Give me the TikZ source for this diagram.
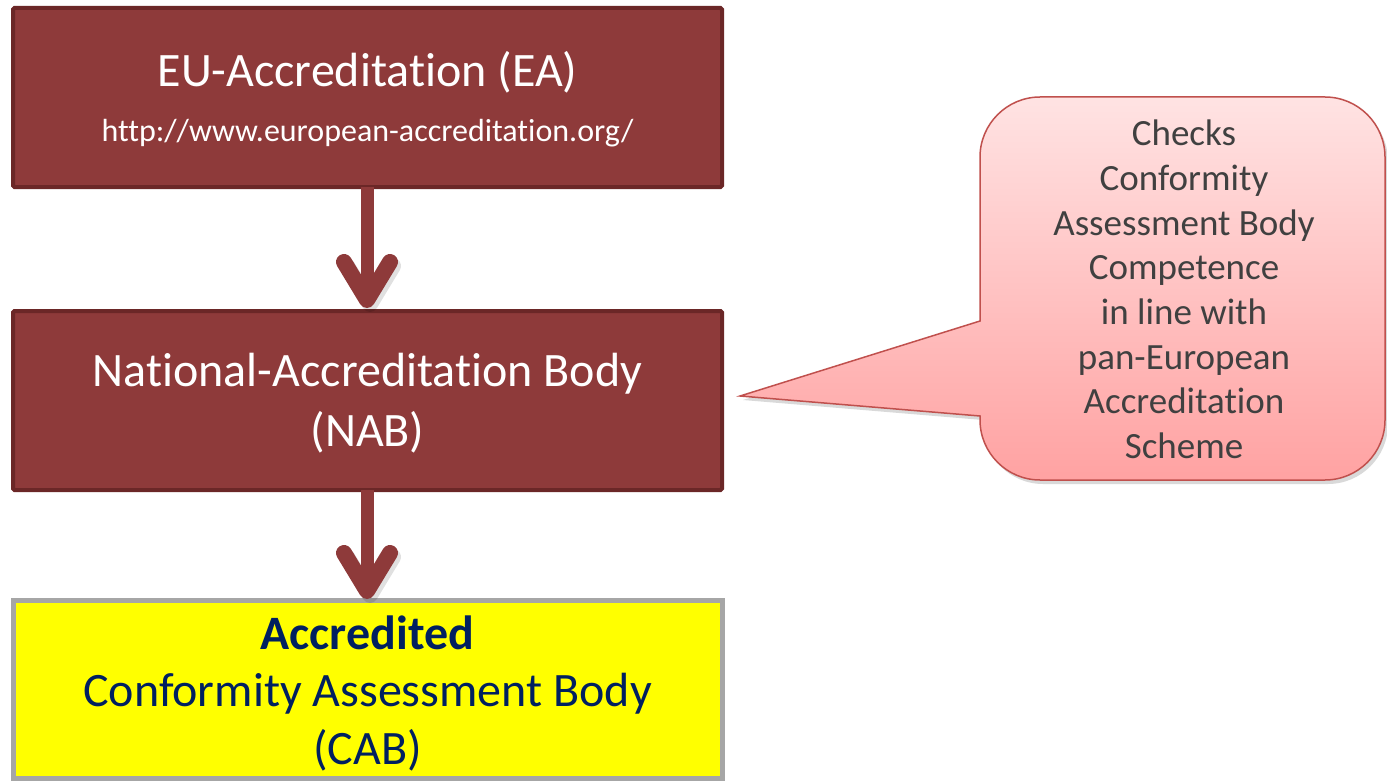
\documentclass[tikz,border=0pt]{standalone}
\usepackage{fontspec}
\setmainfont{Carlito}[Ligatures=NoCommon]
\definecolor{boxred}{HTML}{8E3A3A}
\definecolor{boxedge}{HTML}{6B2727}
\definecolor{navy}{HTML}{002060}
\definecolor{cabyellow}{HTML}{FFFF00}
\definecolor{calloutedge}{HTML}{C0504D}
\definecolor{callouttop}{HTML}{FFE3E3}
\definecolor{calloutbot}{HTML}{FFA2A2}
\definecolor{callouttext}{HTML}{404040}
\definecolor{cabedge}{HTML}{A6A6A6}
\tikzset{
  redbox/.style={draw=boxedge, line width=4pt, fill=boxred, rounded corners=1.5pt,
    minimum width=709pt, minimum height=179pt, inner sep=0pt, align=center, text=white},
  flowarrow/.style={draw=boxred, line width=13pt},
  chevron/.style={draw=boxred, line width=16pt, line cap=round, line join=round},
  chevronshadow/.style={draw=black, line width=16pt, line cap=round, line join=round, opacity=0.12},
}
\begin{document}
\begin{tikzpicture}[x=1pt,y=-1pt]
\useasboundingbox (0,0) rectangle (1387,781);
% boxes
\node[redbox] (ea) at (367.5,97.5) {};
\node[font=\fontsize{48}{58}\selectfont, text=white] (eat) at (367.5,72) {EU-Accreditation (EA)};
\node[font=\fontsize{32}{38}\selectfont, text=white] (eau) at (367.5,133) {http://www.european-accreditation.org/};
\node[redbox] (nab) at (367.5,400.5) {};
\node[font=\fontsize{48}{60}\selectfont, text=white, align=center] (nabt) at (367.5,403) {National-Accreditation Body\\(NAB)};
\node[draw=cabedge, line width=5pt, fill=cabyellow, minimum width=709pt, minimum height=178pt, inner sep=0pt] (cab) at (367.5,689) {};
\node[font=\fontsize{48}{57.5}\selectfont, text=navy, align=center] (cabt) at (367.5,693) {\textbf{Accredited}\\Conformity Assessment Body\\(CAB)};
% arrows
\coordinate (a1s) at (367,187);
\coordinate (a1e) at (367,300);
\draw[chevronshadow] (347,266) -- (370,304) -- (393,266);
\draw[flowarrow] (a1s) -- (a1e);
\draw[chevron] (344,262) -- (367,300) -- (390,262);
\coordinate (a2s) at (367,490);
\coordinate (a2e) at (367,591);
\draw[chevronshadow] (347,557) -- (370,595) -- (393,557);
\draw[flowarrow] (a2s) -- (a2e);
\draw[chevron] (344,553) -- (367,591) -- (390,553);
% callout
\coordinate (tip) at (740,396);
\path[fill=black, opacity=0.15] ([shift={(3,4)}]980,416) -- ([shift={(3,4)}]980,420)
  .. controls ([shift={(3,4)}]980,453) and ([shift={(3,4)}]1007,480) .. ([shift={(3,4)}]1040,480)
  -- ([shift={(3,4)}]1325,480)
  .. controls ([shift={(3,4)}]1358,480) and ([shift={(3,4)}]1385,453) .. ([shift={(3,4)}]1385,420)
  -- ([shift={(3,4)}]1385,157)
  .. controls ([shift={(3,4)}]1385,124) and ([shift={(3,4)}]1358,97) .. ([shift={(3,4)}]1325,97)
  -- ([shift={(3,4)}]1040,97)
  .. controls ([shift={(3,4)}]1007,97) and ([shift={(3,4)}]980,124) .. ([shift={(3,4)}]980,157)
  -- ([shift={(3,4)}]980,321) -- ([shift={(3,4)}]740,396) -- cycle;
\draw[draw=calloutedge, line width=1.5pt, top color=callouttop, bottom color=calloutbot, line join=miter]
  (980,416) -- (980,420)
  .. controls (980,453) and (1007,480) .. (1040,480)
  -- (1325,480)
  .. controls (1358,480) and (1385,453) .. (1385,420)
  -- (1385,157)
  .. controls (1385,124) and (1358,97) .. (1325,97)
  -- (1040,97)
  .. controls (1007,97) and (980,124) .. (980,157)
  -- (980,321) -- (tip) -- cycle;
\node[font=\fontsize{37}{44.7}\selectfont, text=callouttext, align=center] (callt) at (1184,289.5)
  {Checks\\Conformity\\Assessment Body\\Competence\\in line with\\pan-European\\Accreditation\\Scheme};
\end{tikzpicture}
\end{document}
